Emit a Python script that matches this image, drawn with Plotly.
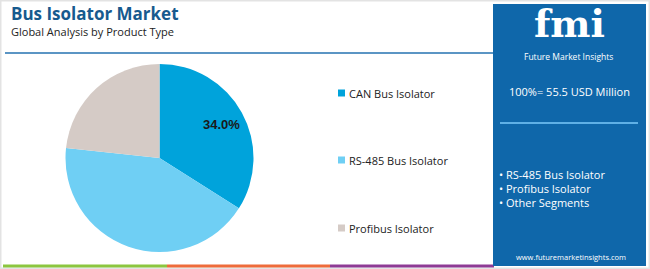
import math
import plotly.graph_objects as go

categories = ["CAN Bus Isolator", "RS-485 Bus Isolator", "Profibus Isolator"]
shares = [34.0, 42.7, 23.3]
slice_labels = ["34.0%", "", ""]
colors = ["#00a3db", "#6fcff4", "#d5cbc6"]
panel_bullets = ["RS-485 Bus Isolator", "Profibus Isolator", "Other Segments"]
total_text = "100%= 55.5 USD Million"

W, H = 650, 269
FONT = "Open Sans"

cx, cy, r = 159.5, 158, 94

fig = go.Figure(go.Pie(
    labels=categories, values=shares, sort=False, direction="clockwise",
    rotation=0, marker=dict(colors=colors, line=dict(width=0)),
    textinfo="none",
    domain=dict(x=[(cx - r) / W, (cx + r) / W], y=[(H - cy - r) / H, (H - cy + r) / H]),
    showlegend=False, hoverinfo="label+percent",
))

shapes = []
annotations = []


def px(x):
    return x / W


def py(y):
    return 1 - y / H


# slice labels placed at mid-angle of each slice (derived from data)
total = sum(shares)
acc = 0.0
for v, lab in zip(shares, slice_labels):
    mid = (acc + v / 2) / total * 2 * math.pi
    acc += v
    if not lab:
        continue
    lx = cx + 0.75 * r * math.sin(mid)
    ly = cy - 0.75 * r * math.cos(mid)
    annotations.append(dict(xref="paper", yref="paper", x=px(lx), y=py(ly), xanchor="center", yanchor="middle",
                            text="<b>" + lab + "</b>", showarrow=False,
                            font=dict(family="Arial", size=13, color="#1a1a1a")))

# outer frame
shapes.append(dict(type="rect", xref="paper", yref="paper", x0=0, x1=1, y0=0, y1=1,
                   line=dict(color="#e3e3e3", width=3), fillcolor="rgba(0,0,0,0)", layer="above"))

# header line
shapes.append(dict(type="line", xref="paper", yref="paper", x0=px(5), x1=px(494), y0=py(53), y1=py(53),
                   line=dict(color="#5b95c4", width=2)))
# bottom line segments
for x0, x1, c in [(3, 167, "#8cc63f"), (167, 330, "#ee6b3b"), (330, 494, "#8e3b95")]:
    shapes.append(dict(type="line", xref="paper", yref="paper", x0=px(x0), x1=px(x1), y0=py(266), y1=py(266),
                       line=dict(color=c, width=3)))
# right panel
shapes.append(dict(type="rect", xref="paper", yref="paper", x0=px(493), x1=px(646), y0=py(266), y1=py(4),
                   fillcolor="#0f67aa", line=dict(width=0)))
shapes.append(dict(type="line", xref="paper", yref="paper", x0=px(500), x1=px(638), y0=py(123), y1=py(123),
                   line=dict(color="#5fb0e6", width=2)))

# title
annotations.append(dict(xref="paper", yref="paper", x=px(9), y=py(13), xanchor="left", yanchor="middle",
                        text="<b>Bus Isolator Market</b>", showarrow=False,
                        font=dict(family=FONT, size=17, color="#175a8e")))
annotations.append(dict(xref="paper", yref="paper", x=px(9), y=py(31), xanchor="left", yanchor="middle",
                        text="Global Analysis by Product Type", showarrow=False,
                        font=dict(family=FONT, size=11, color="#222222")))

# legend
leg_y = [93, 160, 228]
for name, c, yy in zip(categories, colors, leg_y):
    shapes.append(dict(type="rect", xref="paper", yref="paper", x0=px(338), x1=px(345),
                       y0=py(yy + 3.5), y1=py(yy - 3.5), fillcolor=c, line=dict(width=0)))
    annotations.append(dict(xref="paper", yref="paper", x=px(347), y=py(yy), xanchor="left", yanchor="middle",
                            text=name, showarrow=False, font=dict(family=FONT, size=11, color="#222222")))

# panel content
annotations.append(dict(xref="paper", yref="paper", x=px(569), y=py(24), xanchor="center", yanchor="middle",
                        text="<b>fmi</b>", showarrow=False,
                        font=dict(family="DejaVu Serif", size=38, color="#ffffff")))
annotations.append(dict(xref="paper", yref="paper", x=px(568), y=py(56), xanchor="center", yanchor="middle",
                        text="Future Market Insights", showarrow=False,
                        font=dict(family=FONT, size=8.5, color="#ffffff")))
annotations.append(dict(xref="paper", yref="paper", x=px(569), y=py(91), xanchor="center", yanchor="middle",
                        text=total_text, showarrow=False,
                        font=dict(family=FONT, size=11, color="#ffffff")))
for i, b in enumerate(panel_bullets):
    annotations.append(dict(xref="paper", yref="paper", x=px(497), y=py(174 + 14 * i), xanchor="left",
                            yanchor="middle", text="• " + b, showarrow=False,
                            font=dict(family=FONT, size=11, color="#ffffff")))
annotations.append(dict(xref="paper", yref="paper", x=px(571), y=py(257), xanchor="center", yanchor="middle",
                        text="www.futuremarketinsights.com", showarrow=False,
                        font=dict(family=FONT, size=7.5, color="#ffffff")))

fig.update_layout(width=W, height=H, margin=dict(l=0, r=0, t=0, b=0),
                  paper_bgcolor="#ffffff", plot_bgcolor="#ffffff",
                  shapes=shapes, annotations=annotations)

fig.write_html("out.html")
